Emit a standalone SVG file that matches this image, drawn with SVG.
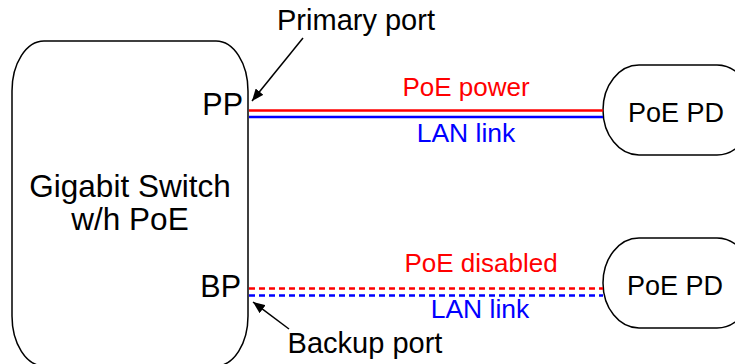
<svg xmlns="http://www.w3.org/2000/svg" width="735" height="364" viewBox="0 0 735 364">
<style>
text{font-family:"Liberation Sans",Arial,sans-serif;fill:#000}
.box{fill:#fff;stroke:#000;stroke-width:1.5}
.red{stroke:#ff0000;stroke-width:2.5;fill:none}
.blue{stroke:#0000ff;stroke-width:2.5;fill:none}
.dash{stroke-dasharray:6 4}
.arr{stroke:#000;stroke-width:1.5;fill:none;marker-end:url(#ah)}
.r{fill:#ff0000}
.b{fill:#0000ff}
</style>
<defs>
<marker id="ah" viewBox="0 0 12 10" refX="12" refY="5" markerWidth="12" markerHeight="10" markerUnits="userSpaceOnUse" orient="auto"><path d="M0,0L12,5L0,10z" fill="#000"/></marker>
</defs>
<rect width="735" height="364" fill="#fff"/>
<g id="switch">
<rect class="box" x="12" y="41" width="236" height="325" rx="32" ry="50"/>
<text x="130" y="197" font-size="31.5" text-anchor="middle">Gigabit Switch</text>
<text x="130" y="230" font-size="31.5" text-anchor="middle">w/h PoE</text>
<text x="243" y="115" font-size="30.5" text-anchor="end">PP</text>
<text x="241" y="297" font-size="30.5" text-anchor="end">BP</text>
</g>
<g id="pd1">
<rect class="box" x="603" y="65" width="150" height="90" rx="36" ry="45"/>
<text x="676" y="122" font-size="27" text-anchor="middle">PoE PD</text>
</g>
<g id="pd2">
<rect class="box" x="603" y="238" width="150" height="90" rx="36" ry="45"/>
<text x="675" y="295" font-size="27" text-anchor="middle">PoE PD</text>
</g>
<g id="connectors">
<line class="red" x1="249" y1="110.5" x2="603" y2="110.5"/>
<line class="blue" x1="249" y1="117" x2="603" y2="117"/>
<line class="red dash" x1="249" y1="288.5" x2="603" y2="288.5"/>
<line class="blue dash" x1="249" y1="295.5" x2="603" y2="295.5"/>
<line class="arr" x1="303" y1="38" x2="252" y2="101"/>
<line class="arr" x1="289" y1="329" x2="253" y2="302"/>
</g>
<g id="labels">
<text x="356" y="30" font-size="29" text-anchor="middle">Primary port</text>
<text x="365" y="353" font-size="29" text-anchor="middle">Backup port</text>
<text class="r" x="466" y="96" font-size="26" text-anchor="middle">PoE power</text>
<text class="b" x="466" y="142" font-size="26.5" text-anchor="middle">LAN link</text>
<text class="r" x="481" y="272" font-size="26" text-anchor="middle">PoE disabled</text>
<text class="b" x="480" y="318" font-size="26.5" text-anchor="middle">LAN link</text>
</g>
</svg>
